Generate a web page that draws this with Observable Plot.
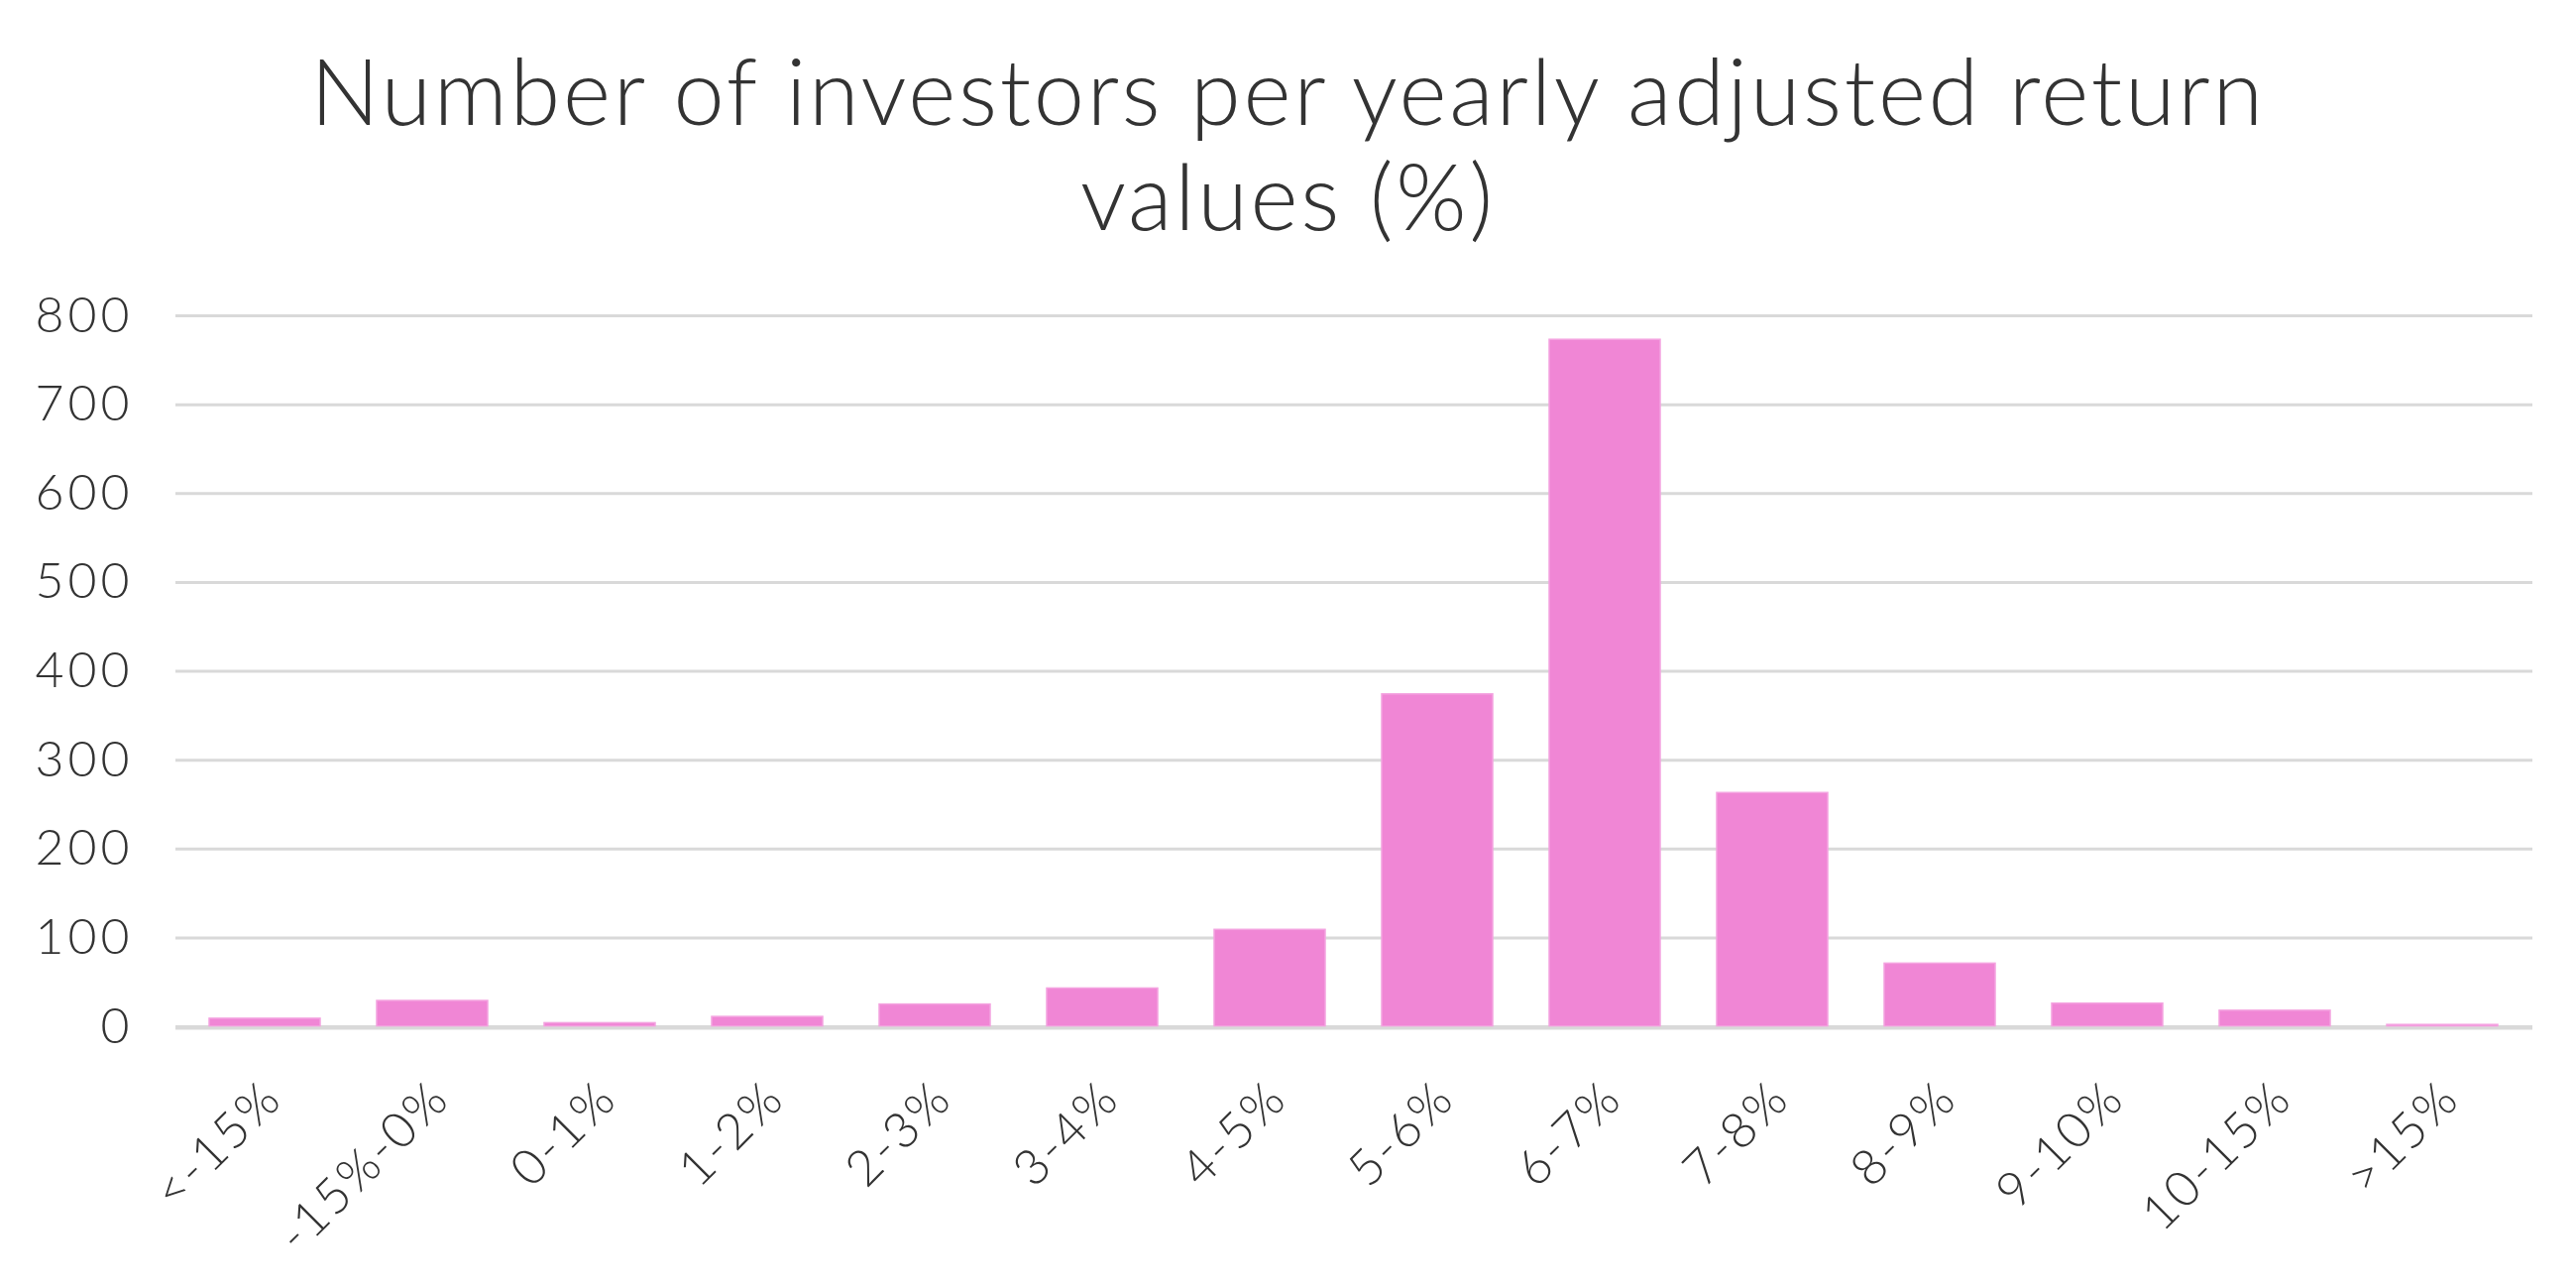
<!DOCTYPE html>
<html>
<head>
<meta charset="utf-8">
<script src="https://cdn.jsdelivr.net/npm/d3@7"></script>
<script src="https://cdn.jsdelivr.net/npm/@observablehq/plot@0.6"></script>
<style>
  html, body { margin: 0; padding: 0; background: #ffffff; }
  body { width: 2599px; height: 1299px; overflow: hidden; }
  #title {
    height: 270px;
    box-sizing: border-box;
    padding-top: 38px;
    text-align: center;
    font-family: Lato, "Open Sans", sans-serif;
    font-weight: 300;
    font-size: 92px;
    line-height: 106px;
    letter-spacing: 2.7px;
    color: #333333;
  }
  #chart svg { display: block; }
  #chart svg text { letter-spacing: 4px; }
  #chart svg g[aria-label="x-axis tick label"] text { letter-spacing: 2.5px; }
</style>
</head>
<body>
<div id="title">Number of investors per yearly adjusted return<br>values (%)</div>
<div id="chart"></div>
<script>
const categories = ["<-15%", "-15%-0%", "0-1%", "1-2%", "2-3%", "3-4%", "4-5%", "5-6%", "6-7%", "7-8%", "8-9%", "9-10%", "10-15%", ">15%"];
const counts = [9, 29, 4, 11, 25, 43, 109, 374, 773, 263, 71, 26, 18, 2];
const yTicks = [0, 100, 200, 300, 400, 500, 600, 700, 800];

const data = categories.map((c, i) => ({category: c, count: counts[i]}));

const chart = Plot.plot({
  width: 2599,
  height: 1029,
  marginTop: 48,
  marginBottom: 264,
  marginLeft: 177,
  marginRight: 44,
  style: {fontFamily: "Lato, 'Open Sans', sans-serif", fontWeight: 300, fontSize: "50px", color: "#333333", background: "#ffffff"},
  x: {domain: categories, paddingInner: 0.335, paddingOuter: 0.1675, label: null},
  y: {domain: [0, 800], label: null},
  marks: [
    Plot.gridY(yTicks, {stroke: "#d9d9d9", strokeOpacity: 1, strokeWidth: 3}),
    Plot.barY(data, {x: "category", y: "count", fill: "#f086d5", stroke: "#f4a3e0", strokeWidth: 1.5}),
    Plot.ruleY([0], {stroke: "#d9d9d9", strokeWidth: 3, dy: 1.5}),
    Plot.axisY(yTicks, {tickSize: 0, tickPadding: 43, fontSize: 50, fill: "#333333"}),
    Plot.axisX({tickSize: 0, tickPadding: 64, tickRotate: -45, fontSize: 50, fill: "#333333", dx: 8})
  ]
});
document.getElementById("chart").appendChild(chart);
</script>
</body>
</html>
